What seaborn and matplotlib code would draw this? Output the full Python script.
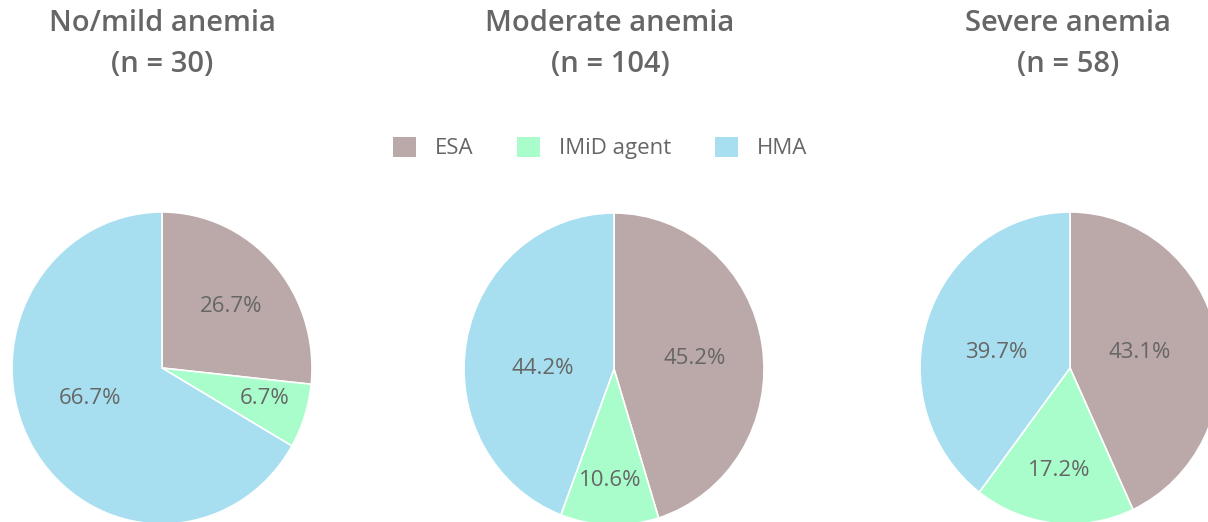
import numpy as np
import matplotlib
matplotlib.use("Agg")
import matplotlib.pyplot as plt
from matplotlib.patches import Patch
import seaborn as sns

# Data
categories = ["ESA", "IMiD agent", "HMA"]
titles = ["No/mild anemia\n(n = 30)", "Moderate anemia\n(n = 104)", "Severe anemia\n(n = 58)"]
counts_mild = [8, 2, 20]
counts_moderate = [47, 11, 46]
counts_severe = [25, 10, 23]
colors = ["#BBA8A8", "#A8FDCB", "#A7DFF0"]

sns.set_theme(style="white")
plt.rcParams["font.family"] = ["Open Sans", "DejaVu Sans"]
text_color = "#666666"

W, H = 1208, 522
stretch = 1.04  # pies are slightly taller than wide in the reference
fig = plt.figure(figsize=(W / 100, H / 100), dpi=100)
ax = fig.add_axes([0, 0, 1, 1])


def to_y(py):
    return (H - py) / stretch


centers = [(162, 368), (614, 369), (1070, 368)]
radius = 150
# label offsets from pie centre, in pixels (x right, y down)
label_offsets = [
    [(69, -61), (103, 30), (-72, 30)],
    [(81, -11), (-4, 111), (-71, -1)],
    [(70, -15), (-11, 102), (-74, -16)],
]
title_x = [162, 610, 1068]

for counts, title, c, offs, tx in zip(
    [counts_mild, counts_moderate, counts_severe], titles, centers, label_offsets, title_x
):
    wedges, texts, autotexts = ax.pie(
        counts, colors=colors, startangle=90, counterclock=False,
        center=(c[0], to_y(c[1])), radius=radius, autopct="%.1f%%",
        wedgeprops=dict(edgecolor="white", linewidth=1.2),
        textprops=dict(color=text_color, fontsize=16),
        frame=True,
    )
    for t, (dx, dy) in zip(autotexts, offs):
        t.set_position((c[0] + dx, to_y(c[1] + dy)))
    ax.text(tx, to_y(44), title, ha="center", va="center", fontsize=21,
            fontweight="semibold", color=text_color, linespacing=1.57)

ax.set_aspect("auto")
ax.set_xlim(0, W)
ax.set_ylim(0, H / stretch)
ax.axis("off")

handles = [Patch(facecolor=col, edgecolor="none") for col in colors]
fig.legend(handles, categories, loc="center", bbox_to_anchor=(600 / W, 1 - 148 / H),
           ncol=3, frameon=False, fontsize=16, labelcolor=text_color,
           handlelength=1.05, handleheight=1.05, handletextpad=0.85, columnspacing=1.95)

fig.savefig("out.png", dpi=100)
